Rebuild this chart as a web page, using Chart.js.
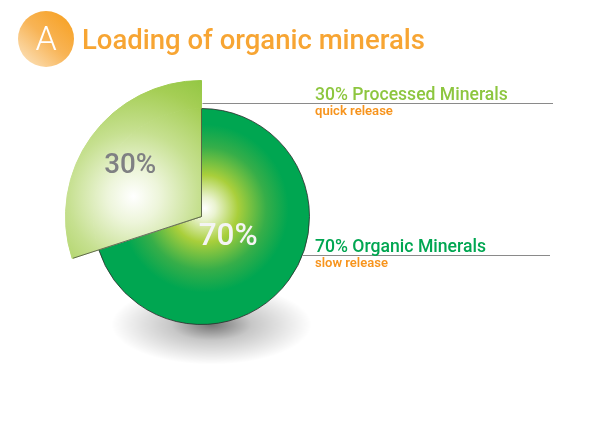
<!DOCTYPE html>
<html>
<head>
<meta charset="utf-8">
<script src="https://cdn.jsdelivr.net/npm/chart.js@4.4.1/dist/chart.umd.min.js"></script>
<style>
  html, body { margin: 0; padding: 0; background: #fff; }
  #wrap { position: relative; width: 611px; height: 441px; }
</style>
</head>
<body>
<div id="wrap"><canvas id="chartMinerals" width="611" height="441"></canvas></div>
<script>
// Datos del gráfico
const titleText = 'Loading of organic minerals';
const badgeLetter = 'A';
const categories = ['Organic Minerals', 'Processed Minerals'];
const shares = [70, 30];
const releaseNotes = ['slow release', 'quick release'];

const FONT = 'Roboto, "Noto Sans", sans-serif';

function pieCenter(chart) {
  const a = chart.chartArea;
  return { x: (a.left + a.right) / 2, y: (a.top + a.bottom) / 2 };
}

// gradientes radiales, relativos al centro del pastel
function greenFill(chart) {
  const p = pieCenter(chart);
  const g = chart.ctx.createRadialGradient(p.x + 3, p.y - 8, 0, p.x + 3, p.y - 8, 112);
  g.addColorStop(0, '#ffffff');
  g.addColorStop(0.1, '#eaf3d0');
  g.addColorStop(0.3, '#a9cf3b');
  g.addColorStop(0.55, '#36ae49');
  g.addColorStop(0.75, '#00a651');
  g.addColorStop(1, '#00a651');
  return g;
}

function lightFill(chart) {
  const p = pieCenter(chart);
  const gx = p.x - 68, gy = p.y - 20;
  const g = chart.ctx.createRadialGradient(gx, gy, 0, gx, gy, 145);
  g.addColorStop(0, '#ffffff');
  g.addColorStop(0.18, '#edf5da');
  g.addColorStop(0.45, '#c6e090');
  g.addColorStop(0.75, '#a5ce55');
  g.addColorStop(1, '#8cc43c');
  return g;
}

function sliceFill(c) {
  const chart = c.chart;
  if (!chart.chartArea) return '#8dc63f';
  if (c.dataIndex === 1) return lightFill(chart);
  return c.datasetIndex === 0 ? 'rgba(0,0,0,0)' : greenFill(chart);
}

function sliceBorder(c) {
  const chart = c.chart;
  if (!chart.chartArea) return 'rgba(0,0,0,0)';
  if (c.dataIndex === 1) return lightFill(chart);
  return c.datasetIndex === 0 ? 'rgba(0,0,0,0)' : '#2b2b2b';
}

function fitFont(ctx, text, weight, width) {
  ctx.font = `${weight} 20px ${FONT}`;
  const w = ctx.measureText(text).width;
  ctx.font = `${weight} ${20 * width / w}px ${FONT}`;
}

// sombra, etiquetas y textos laterales
const decorPlugin = {
  id: 'decor',
  beforeDatasetsDraw(chart) {
    const ctx = chart.ctx;
    const p = pieCenter(chart);
    ctx.save();
    ctx.translate(p.x + 10, p.y + 108);
    ctx.scale(1, 0.4);
    const g = ctx.createRadialGradient(0, 0, 0, 0, 0, 100);
    g.addColorStop(0, 'rgba(0,0,0,0.55)');
    g.addColorStop(0.4, 'rgba(0,0,0,0.22)');
    g.addColorStop(1, 'rgba(0,0,0,0)');
    ctx.fillStyle = g;
    ctx.beginPath();
    ctx.arc(0, 0, 100, 0, Math.PI * 2);
    ctx.fill();
    ctx.restore();
  },
  afterDatasetsDraw(chart) {
    const ctx = chart.ctx;
    const inner = chart.getDatasetMeta(1).data;
    const outer = chart.getDatasetMeta(0).data;
    const p = pieCenter(chart);

    // borde fino de la porción 30%
    const sm = outer[1];
    ctx.save();
    ctx.strokeStyle = 'rgba(40,40,40,0.8)';
    ctx.lineWidth = 0.8;
    ctx.beginPath();
    ctx.moveTo(p.x + Math.cos(sm.startAngle) * (sm.outerRadius - 1), p.y + Math.sin(sm.startAngle) * (sm.outerRadius - 1));
    ctx.lineTo(p.x, p.y);
    ctx.lineTo(p.x + Math.cos(sm.endAngle) * inner[0].outerRadius, p.y + Math.sin(sm.endAngle) * inner[0].outerRadius);
    ctx.stroke();
    ctx.restore();

    // porcentajes
    const labelDist = [33, 88];
    const labelColor = ['#f4f4f4', '#7f8083'];
    const labelWidth = [59, 52];
    inner.forEach((arc, i) => {
      const mid = (arc.startAngle + arc.endAngle) / 2;
      ctx.save();
      fitFont(ctx, shares[i] + '%', 500, labelWidth[i]);
      ctx.fillStyle = labelColor[i];
      ctx.textAlign = 'center';
      ctx.textBaseline = 'middle';
      ctx.fillText(shares[i] + '%', p.x + Math.cos(mid) * labelDist[i], p.y + Math.sin(mid) * labelDist[i] + 1);
      ctx.restore();
    });

    // líneas y textos a la derecha
    const R = inner[0].outerRadius;
    const lineY = [255, 103];
    const lineEnd = [550, 553];
    const mainColor = ['#00a651', '#8dc63f'];
    const mainWidth = [171, 193];
    const noteWidth = [73, 78];
    [0, 1].forEach(i => {
      const dy = lineY[i] - p.y;
      const x0 = i === 0 ? p.x + Math.sqrt(R * R - dy * dy) : p.x + 1;
      ctx.save();
      ctx.strokeStyle = '#8a8a8a';
      ctx.lineWidth = 1;
      ctx.beginPath();
      ctx.moveTo(x0, lineY[i] + 0.5);
      ctx.lineTo(lineEnd[i], lineY[i] + 0.5);
      ctx.stroke();

      const text = `${shares[i]}% ${categories[i]}`;
      fitFont(ctx, text, 500, mainWidth[i]);
      ctx.fillStyle = mainColor[i];
      ctx.textBaseline = 'alphabetic';
      ctx.fillText(text, 315, lineY[i] - 3);

      fitFont(ctx, releaseNotes[i], 600, noteWidth[i]);
      ctx.fillStyle = '#f7941d';
      ctx.fillText(releaseNotes[i], 315, lineY[i] + 12);
      ctx.restore();
    });

    // título con insignia
    ctx.save();
    const bg = ctx.createLinearGradient(64, 20, 26, 62);
    bg.addColorStop(0, '#f7a52e');
    bg.addColorStop(0.45, '#f8b456');
    bg.addColorStop(1, '#fbdcaf');
    ctx.fillStyle = bg;
    ctx.beginPath();
    ctx.arc(46, 39, 28, 0, Math.PI * 2);
    ctx.fill();
    ctx.fillStyle = '#ffffff';
    ctx.font = `300 34px ${FONT}`;
    ctx.textAlign = 'center';
    ctx.textBaseline = 'middle';
    ctx.fillText(badgeLetter, 46, 41);

    ctx.textAlign = 'left';
    ctx.textBaseline = 'alphabetic';
    fitFont(ctx, titleText, 500, 343);
    ctx.fillStyle = '#f7a533';
    ctx.fillText(titleText, 82, 49);
    ctx.restore();
  }
};

const ctx = document.getElementById('chartMinerals');
const chart = new Chart(ctx, {
  type: 'pie',
  data: {
    labels: categories,
    datasets: [
      {
        // anillo exterior: solo la porción destacada
        data: shares,
        weight: 28,
        backgroundColor: sliceFill,
        borderColor: sliceBorder,
        borderWidth: (c) => (c.dataIndex === 1 ? 1 : 0),
        hoverBorderWidth: 1,
        hoverOffset: 0
      },
      {
        data: shares,
        weight: 108,
        backgroundColor: sliceFill,
        borderColor: sliceBorder,
        borderWidth: (c) => (c.dataIndex === 1 ? 1 : 0.8),
        hoverBorderWidth: 1,
        hoverOffset: 0
      }
    ]
  },
  options: {
    responsive: false,
    animation: false,
    layout: { padding: { left: 65, top: 80, right: 273, bottom: 88 } },
    plugins: {
      legend: { display: false },
      tooltip: { enabled: false }
    }
  },
  plugins: [decorPlugin]
});
</script>
</body>
</html>
